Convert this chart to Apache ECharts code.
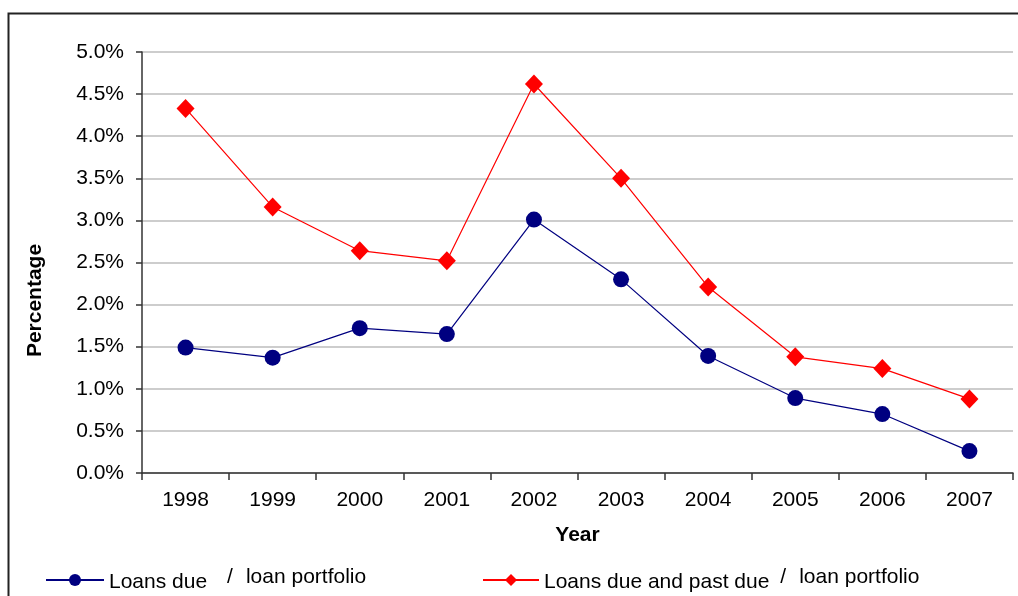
<!DOCTYPE html>
<html>
<head>
<meta charset="utf-8">
<script src="https://cdn.jsdelivr.net/npm/echarts@6/dist/echarts.min.js"></script>
<style>
  html, body { margin: 0; padding: 0; background: #fff; }
  #chart { width: 1018px; height: 596px; }
</style>
</head>
<body>
<div id="chart"></div>
<script>
// Ratio of loans due (and past due) to the loan portfolio, by year
const years = ['1998', '1999', '2000', '2001', '2002', '2003', '2004', '2005', '2006', '2007'];
const loansDue = [1.49, 1.37, 1.72, 1.65, 3.01, 2.30, 1.39, 0.89, 0.70, 0.26];
const loansDuePastDue = [4.33, 3.16, 2.64, 2.52, 4.62, 3.50, 2.21, 1.38, 1.24, 0.88];
const seriesNames = ['Loans due / loan portfolio', 'Loans due and past due / loan portfolio'];

const FONT = '"Liberation Sans", Arial, sans-serif';
const FS = 21;
const chart = echarts.init(document.getElementById('chart'), null, { renderer: 'canvas' });

// legend label: the "/ loan portfolio" part sits slightly raised
function legendText(name) {
  const i = name.indexOf(' / ');
  return '{a|' + name.slice(0, i) + '}{b|/}{c|' + name.slice(i + 3) + '}';
}
function legendRich(gapBefore, gapAfter) {
  return {
    a: { fontSize: FS, fontFamily: FONT, color: '#000', verticalAlign: 'bottom' },
    b: { fontSize: FS, fontFamily: FONT, color: '#000', verticalAlign: 'bottom', padding: [0, gapAfter, 5, gapBefore] },
    c: { fontSize: FS, fontFamily: FONT, color: '#000', verticalAlign: 'bottom', padding: [0, 0, 5, 0] }
  };
}

const nameStyle = { fontSize: FS, fontWeight: 'bold', fontFamily: FONT, color: '#000' };

chart.setOption({
  backgroundColor: '#fff',
  animation: false,
  grid: { left: 142, right: 5, top: 52, bottom: 123 },
  graphic: [{
    type: 'polyline',
    shape: { points: [[8.5, 596], [8.5, 13.5], [1018, 13.5]] },
    style: { stroke: '#222', lineWidth: 2, fill: null }
  }],
  legend: [{
    data: [seriesNames[0]],
    left: 45, top: 567, padding: 0,
    itemWidth: 58, itemHeight: 15, itemGap: 0,
    formatter: legendText,
    textStyle: { rich: legendRich(20, 13) }
  }, {
    data: [seriesNames[1]],
    left: 482, top: 567, padding: 0,
    itemWidth: 56, itemHeight: 15, itemGap: 0,
    formatter: legendText,
    textStyle: { rich: legendRich(11, 13) }
  }],
  xAxis: {
    type: 'category',
    data: years,
    boundaryGap: true,
    name: 'Year',
    nameLocation: 'middle',
    nameGap: 52,
    nameTextStyle: nameStyle,
    axisLine: { lineStyle: { color: '#333', width: 1.5 } },
    axisTick: { show: true, length: 7, alignWithLabel: false, lineStyle: { color: '#333', width: 1.5 } },
    axisLabel: { fontSize: FS, fontFamily: FONT, color: '#000', margin: 17 },
    splitLine: { show: false }
  },
  yAxis: {
    type: 'value',
    min: 0, max: 5, interval: 0.5,
    name: 'Percentage',
    nameLocation: 'middle',
    nameGap: 96,
    nameRotate: 90,
    nameTextStyle: Object.assign({ padding: [0, 76, 0, 0] }, nameStyle),
    axisLine: { show: true, lineStyle: { color: '#333', width: 1.5 } },
    axisTick: { show: true, length: 6, lineStyle: { color: '#333', width: 1.5 } },
    axisLabel: {
      fontSize: FS, fontFamily: FONT, color: '#000', margin: 18,
      formatter: v => v.toFixed(1) + '%'
    },
    splitLine: { show: true, lineStyle: { color: '#bdbdbd', width: 1.5 } }
  },
  series: [{
    name: seriesNames[0],
    type: 'line',
    data: loansDue,
    symbol: 'circle',
    symbolSize: 16,
    lineStyle: { color: '#000080', width: 1.2 },
    itemStyle: { color: '#000080' }
  }, {
    name: seriesNames[1],
    type: 'line',
    data: loansDuePastDue,
    symbol: 'diamond',
    symbolSize: [18, 19],
    lineStyle: { color: '#ff0000', width: 1.2 },
    itemStyle: { color: '#ff0000' }
  }]
});
</script>
</body>
</html>
